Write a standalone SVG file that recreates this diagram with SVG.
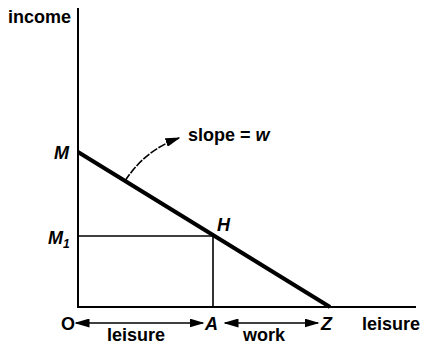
<svg xmlns="http://www.w3.org/2000/svg" width="426" height="346" viewBox="0 0 426 346">
<defs>
<style>
.t{font-family:"Liberation Sans",Arial,sans-serif;font-size:18px;font-weight:bold;fill:#000}
.i{font-style:italic}
.ax{stroke:#000;stroke-width:2;fill:none}
.thin{stroke:#000;stroke-width:1.6;fill:none}
.bud{stroke:#000;stroke-width:4;fill:none}
</style>
<marker id="ah2" viewBox="0 0 10 10" refX="9" refY="5" markerWidth="15" markerHeight="9" preserveAspectRatio="none" orient="auto-start-reverse" markerUnits="userSpaceOnUse">
<path d="M0,0 L10,5 L0,10 z" fill="#000"/>
</marker>
</defs>
<rect width="426" height="346" fill="#fff"/>
<g id="connectors">
<path class="ax" d="M78,8 V307 H416"/>
<path class="bud" d="M78,152 L330,307"/>
<path class="thin" d="M78,236 H213 V307"/>
<path class="thin" d="M125,181 Q145,150 179,138" stroke-dasharray="8,1.5" marker-end="url(#ah2)"/>
<path class="thin" d="M76,323 H203" marker-start="url(#ah2)" marker-end="url(#ah2)"/>
<path class="thin" d="M225,323 H318" marker-start="url(#ah2)" marker-end="url(#ah2)"/>
</g>
<g id="axis-income"><text class="t" x="8" y="23">income</text></g>
<g id="label-M"><text class="t i" x="54" y="159">M</text></g>
<g id="label-M1"><text class="t i" x="48" y="244">M<tspan font-size="12" dy="4">1</tspan></text></g>
<g id="label-H"><text class="t i" x="217" y="231">H</text></g>
<g id="label-slope"><text class="t" x="188" y="141">slope = <tspan class="i">w</tspan></text></g>
<g id="label-O"><text class="t" x="61" y="330">O</text></g>
<g id="label-A"><text class="t i" x="205" y="330">A</text></g>
<g id="label-Z"><text class="t i" x="321" y="330">Z</text></g>
<g id="axis-leisure"><text class="t" x="362" y="330">leisure</text></g>
<g id="label-leisure"><text class="t" x="107" y="341">leisure</text></g>
<g id="label-work"><text class="t" x="243" y="341">work</text></g>
</svg>
